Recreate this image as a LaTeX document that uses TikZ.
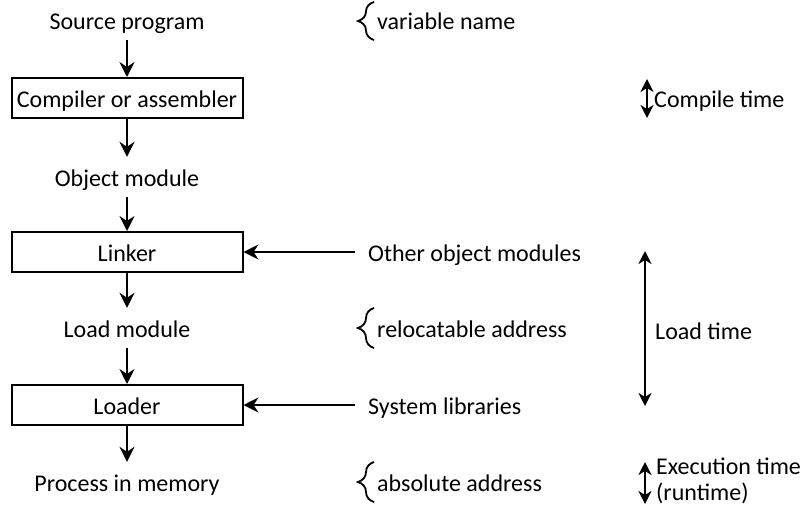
\documentclass[tikz,border=0pt]{standalone}
\usepackage{fontspec}
\setmainfont{Carlito}
\usetikzlibrary{arrows.meta,decorations.pathreplacing}

\tikzset{
  stage/.style={draw,line width=2pt,minimum width=231pt,minimum height=40pt,inner sep=0pt,text height=19.5pt,text depth=0pt},
  word/.style={minimum height=40pt,inner sep=0pt,text height=19.5pt,text depth=0pt},
  side/.style={anchor=west,inner xsep=13pt,inner ysep=0pt,text height=19.5pt,text depth=0pt},
  flow/.style={line width=2pt,-{Stealth[length=15pt,width=15pt,inset=5pt]}},
  span/.style={line width=2pt,{Stealth[length=13pt,width=13pt,inset=4pt]}-{Stealth[length=13pt,width=13pt,inset=4pt]}},
  curly/.style={decorate,decoration={brace,amplitude=16pt,aspect=0.5},line width=1.8pt},
}

\begin{document}
\begin{tikzpicture}[x=1pt,y=-1pt,font=\fontsize{24}{28}\selectfont]
\useasboundingbox (0,0) rectangle (803,506);

%left column
\node [word] (src) at (127,20) {Source program};
\node [stage] (comp) at (127,98) {Compiler or assembler};
\node [word] (obj) at (127,177) {Object module};
\node [stage] (link) at (127,252) {Linker};
\node [word] (lmod) at (127,328) {Load module};
\node [stage] (load) at (127,405) {Loader};
\node [word] (proc) at (127,482) {Process in memory};

\draw[flow] (src) to (comp);
\draw[flow] (comp) to (obj);
\draw[flow] (obj) to (link);
\draw[flow] (link) to (lmod);
\draw[flow] (lmod) to (load);
\draw[flow] (load) to (proc);

%inputs
\node [side] (others) at (355,252) {Other object modules};
\node [side] (syslib) at (355,405) {System libraries};
\draw[flow] (others) to (link);
\draw[flow] (syslib) to (load);

%address kinds
\node [side,inner xsep=0pt] (vname) at (377,20) {variable name};
\node [side,inner xsep=0pt] (reloc) at (377,328) {relocatable address};
\node [side,inner xsep=0pt] (absad) at (377,482) {absolute address};
\draw[curly] (374,40) -- (374,2);
\draw[curly] (374,348) -- (374,308);
\draw[curly] (374,502) -- (374,462);

%binding times
\coordinate (ct1) at (647,79);
\coordinate (ct2) at (647,118);
\coordinate (lt1) at (645,251);
\coordinate (lt2) at (645,406);
\coordinate (et1) at (645,462);
\coordinate (et2) at (645,504);
\node [side,inner xsep=0pt] (ctime) at (654,98) {Compile time};
\node [side,inner xsep=0pt] (ltime) at (655,330) {Load time};
\node [anchor=west,inner sep=0pt,align=left,font=\fontsize{24}{26}\selectfont] (etime) at (656,481) {Execution time\\(runtime)};

\draw[span] (ct1) to (ct2);
\draw[span] (lt1) to (lt2);
\draw[span] (et1) to (et2);

\end{tikzpicture}
\end{document}
